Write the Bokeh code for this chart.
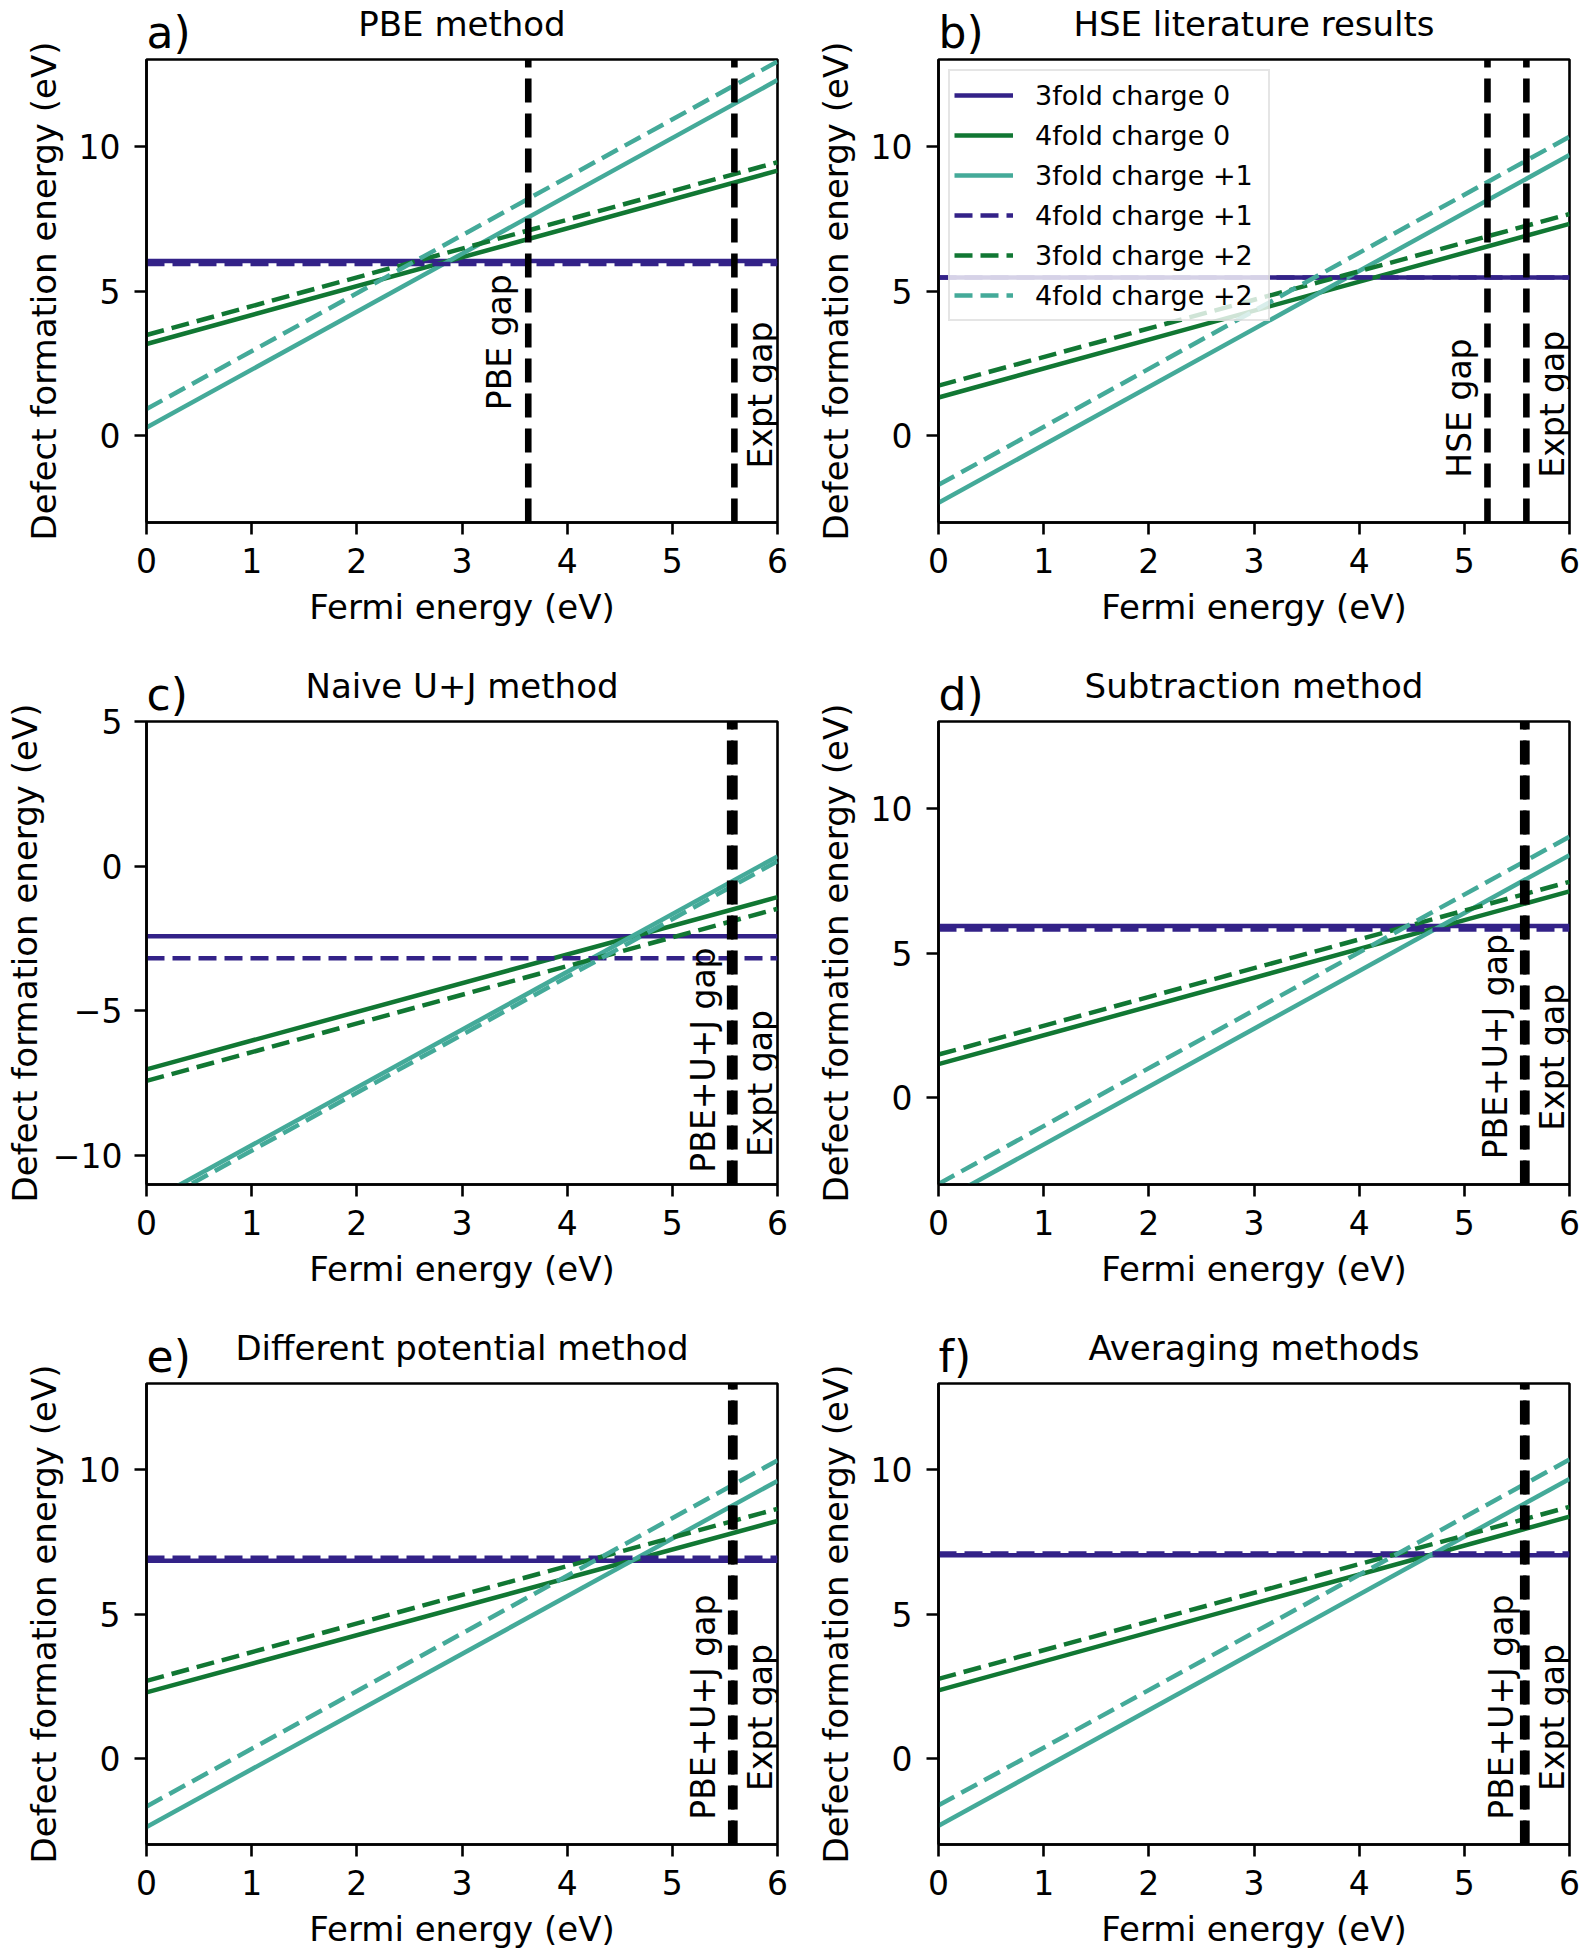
from bokeh.plotting import figure
from bokeh.models import Range1d, FixedTicker, Label, Legend, LegendItem, LinearAxis
from bokeh.layouts import column, row
from bokeh.embed import file_html
from bokeh.resources import INLINE

# ---------------- data ----------------
fermi_ev = [0.0, 6.0]
series_names = ["3fold charge 0", "4fold charge 0", "3fold charge +1",
                "4fold charge +1", "3fold charge +2", "4fold charge +2"]

# formation energies at Fermi energy 0 eV and 6 eV, per panel, per series
pbe_at0 = [6.04, 3.17, 0.28, 5.93, 3.48, 0.92]
pbe_at6 = [6.04, 9.16, 12.29, 5.93, 9.45, 12.93]
hse_at0 = [5.47, 1.32, -2.32, 5.47, 1.73, -1.70]
hse_at6 = [5.47, 7.32, 9.70, 5.47, 7.66, 10.33]
naive_at0 = [-2.42, -7.02, -11.64, -3.18, -7.42, -11.83]
naive_at6 = [-2.42, -1.07, 0.34, -3.18, -1.47, 0.17]
subtr_at0 = [5.93, 1.16, -3.62, 5.81, 1.49, -2.98]
subtr_at6 = [5.93, 7.13, 8.38, 5.81, 7.46, 9.02]
diffpot_at0 = [6.85, 2.28, -2.39, 6.95, 2.68, -1.68]
diffpot_at6 = [6.85, 8.23, 9.62, 6.95, 8.65, 10.33]
avg_at0 = [7.04, 2.35, -2.35, 7.10, 2.75, -1.64]
avg_at6 = [7.04, 8.38, 9.69, 7.10, 8.72, 10.36]

panel_letters = ["a)", "b)", "c)", "d)", "e)", "f)"]
panel_titles = ["PBE method", "HSE literature results", "Naive U+J method",
                "Subtraction method", "Different potential method", "Averaging methods"]

gap_values = [[3.63, 5.59], [5.22, 5.59], [5.55, 5.59],
              [5.56, 5.59], [5.56, 5.59], [5.56, 5.59]]
gap_labels = [["PBE gap", "Expt gap"], ["HSE gap", "Expt gap"],
              ["PBE+U+J gap", "Expt gap"], ["PBE+U+J gap", "Expt gap"],
              ["PBE+U+J gap", "Expt gap"], ["PBE+U+J gap", "Expt gap"]]

y_limits = [(-3, 13), (-3, 13), (-11, 5), (-3, 13), (-3, 13), (-3, 13)]
y_ticks = [[0, 5, 10], [0, 5, 10], [-10, -5, 0, 5], [0, 5, 10], [0, 5, 10], [0, 5, 10]]
x_ticks = [0, 1, 2, 3, 4, 5, 6]

panel_at0 = [pbe_at0, hse_at0, naive_at0, subtr_at0, diffpot_at0, avg_at0]
panel_at6 = [pbe_at6, hse_at6, naive_at6, subtr_at6, diffpot_at6, avg_at6]

# ---------------- styles ----------------
COLORS = ["#332288", "#117733", "#44AA99", "#332288", "#117733", "#44AA99"]
DASHES = ["solid", "solid", "solid", "18 8", "18 8", "18 8"]
FONT = "DejaVu Sans"

# placement of the rotated gap annotations (anchor x, text start y)
gap_text_pos = [
    [(3.36, 0.88), (5.835, -1.13)],
    [(4.95, -1.45), (5.835, -1.45)],
    [(5.30, -10.59), (5.835, -10.05)],
    [(5.30, -2.13), (5.835, -1.14)],
    [(5.30, -2.14), (5.835, -1.14)],
    [(5.35, -2.14), (5.835, -1.14)],
]
# centre of each panel letter, so that it starts at the left spine
letter_center = [0.21, 0.215, 0.197, 0.215, 0.211, 0.155]


def make_panel(i):
    col = i % 2
    rw = i // 2
    left = col == 0
    height = 627 if rw == 2 else 662
    p = figure(width=790, height=height,
               x_range=Range1d(0, 6), y_range=Range1d(*y_limits[i]),
               output_backend="svg", toolbar_location=None,
               min_border_left=146 if left else 148,
               min_border_right=13 if left else 11,
               min_border_top=53 if rw == 2 else 54,
               min_border_bottom=106 if rw == 2 else 140)
    p.background_fill_color = "white"
    p.border_fill_color = "white"
    p.outline_line_color = "black"
    p.outline_line_width = 2.6
    p.grid.visible = False

    p.xaxis.ticker = FixedTicker(ticks=x_ticks)
    p.yaxis.ticker = FixedTicker(ticks=y_ticks[i])
    if i == 2:
        p.yaxis.major_label_overrides = {t: ("\u2212" + str(-t)) for t in y_ticks[i] if t < 0}
    for ax in (p.xaxis, p.yaxis):
        ax.axis_line_width = 2.6
        ax.axis_line_color = "black"
        ax.major_tick_line_width = 2.6
        ax.major_tick_line_color = "black"
        ax.major_tick_out = 12
        ax.major_tick_in = 0
        ax.minor_tick_line_color = None
        ax.major_label_text_font = FONT
        ax.major_label_text_font_size = "33px"
        ax.major_label_text_color = "black"
        ax.axis_label_text_font = FONT
        ax.axis_label_text_font_size = "34px"
        ax.axis_label_text_font_style = "normal"
        ax.axis_label_text_color = "black"
    p.xaxis.axis_label = "Fermi energy (eV)"
    p.yaxis.axis_label = "Defect formation energy (eV)"
    p.xaxis.major_label_standoff = 13
    p.yaxis.major_label_standoff = 12 if i == 2 else 14
    p.xaxis.axis_label_standoff = 11
    p.yaxis.axis_label_standoff = 5 if i == 2 else 12

    # panel letter (as a tick label) and panel title (as an axis label) above the frame
    top = LinearAxis(ticker=FixedTicker(ticks=[letter_center[i]]),
                     major_label_overrides={letter_center[i]: panel_letters[i]},
                     axis_label=panel_titles[i])
    top.axis_line_color = None
    top.major_tick_line_color = None
    top.minor_tick_line_color = None
    top.major_tick_out = 0
    top.major_tick_in = 0
    top.major_label_standoff = 2
    top.major_label_text_font = FONT
    top.major_label_text_font_size = "44px"
    top.major_label_text_color = "black"
    top.axis_label_text_font = FONT
    top.axis_label_text_font_size = "34px"
    top.axis_label_text_font_style = "normal"
    top.axis_label_text_color = "black"
    top.axis_label_standoff = -40
    p.add_layout(top, "above")

    renderers = []
    for k in range(6):
        r = p.line(fermi_ev, [panel_at0[i][k], panel_at6[i][k]],
                   line_color=COLORS[k], line_width=4.5, line_dash=DASHES[k])
        renderers.append(r)

    y0, y1 = y_limits[i]
    for g in gap_values[i]:
        p.line([g, g], [y0, y1], line_color="black", line_width=6.6, line_dash="24 11")

    for (tx, ty), txt in zip(gap_text_pos[i], gap_labels[i]):
        p.add_layout(Label(x=tx, y=ty, text=txt, angle=90, angle_units="deg",
                           text_align="left", text_baseline="alphabetic",
                           text_font=FONT, text_font_size="33px", text_color="black"))

    if i == 1:
        items = [LegendItem(label=series_names[k], renderers=[renderers[k]]) for k in range(6)]
        leg = Legend(items=items, location="top_left", margin=10, padding=4, spacing=0,
                     glyph_width=59, glyph_height=40, label_height=40, label_standoff=22,
                     label_width=229, label_text_font=FONT, label_text_font_size="27px",
                     label_text_color="black",
                     border_line_color="#cccccc", border_line_width=2,
                     background_fill_color="white", background_fill_alpha=0.8)
        p.add_layout(leg)
    return p


panels = [make_panel(i) for i in range(6)]
layout = column(row(panels[0], panels[1]), row(panels[2], panels[3]), row(panels[4], panels[5]))

open("out.html", "w").write(file_html(layout, INLINE))
